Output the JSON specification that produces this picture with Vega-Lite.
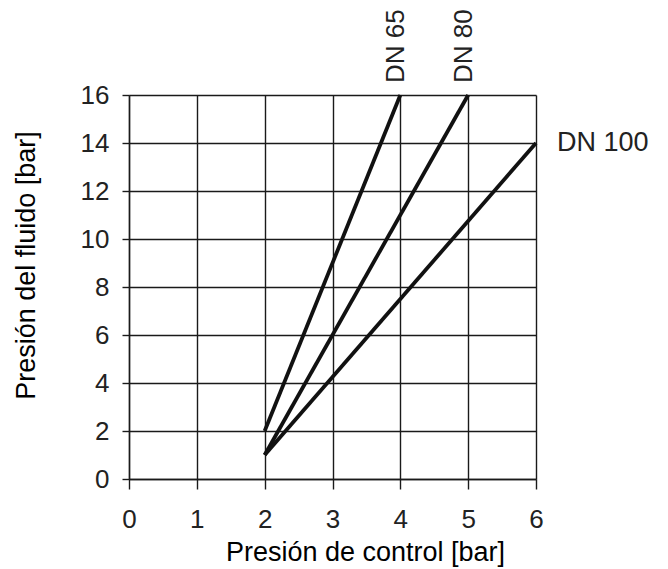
{
  "$schema": "https://vega.github.io/schema/vega-lite/v6.json",
  "autosize": {"type": "none"},
  "padding": {"left": 129, "top": 95, "right": 132, "bottom": 90},
  "width": 407,
  "height": 384,
  "background": "white",
  "config": {
    "view": {"stroke": null},
    "font": "Liberation Sans"
  },
  "data": {
    "values": [
      {"serie": "DN 65", "control": 2, "fluido": 2},
      {"serie": "DN 65", "control": 4, "fluido": 16},
      {"serie": "DN 80", "control": 2, "fluido": 1},
      {"serie": "DN 80", "control": 5, "fluido": 16},
      {"serie": "DN 100", "control": 2, "fluido": 1},
      {"serie": "DN 100", "control": 6, "fluido": 14}
    ]
  },
  "encoding": {
    "x": {
      "field": "control",
      "type": "quantitative",
      "scale": {"domain": [0, 6], "nice": false},
      "axis": {
        "title": "Presión de control [bar]",
        "values": [0, 1, 2, 3, 4, 5, 6],
        "grid": true,
        "gridColor": "#1a1a1a",
        "gridWidth": 1.4,
        "gridOpacity": 1,
        "domainColor": "#1a1a1a",
        "domainWidth": 1.4,
        "tickColor": "#1a1a1a",
        "tickWidth": 1.4,
        "tickSize": 10,
        "labelFontSize": 26,
        "labelColor": "#222",
        "labelPadding": 17,
        "labelFlush": false,
        "titleFontSize": 27,
        "titleFontWeight": "normal",
        "titleColor": "#000",
        "titleX": 236,
        "titleY": 81,
        "titleAlign": "center",
        "titleBaseline": "alphabetic"
      }
    },
    "y": {
      "field": "fluido",
      "type": "quantitative",
      "scale": {"domain": [0, 16], "nice": false},
      "axis": {
        "title": "Presión del fluido [bar]",
        "values": [0, 2, 4, 6, 8, 10, 12, 14, 16],
        "grid": true,
        "gridColor": "#1a1a1a",
        "gridWidth": 1.4,
        "gridOpacity": 1,
        "domainColor": "#1a1a1a",
        "domainWidth": 1.4,
        "tickColor": "#1a1a1a",
        "tickWidth": 1.4,
        "tickSize": 7,
        "labelFontSize": 26,
        "labelColor": "#222",
        "labelPadding": 13,
        "labelFlush": false,
        "titleFontSize": 27,
        "titleFontWeight": "normal",
        "titleColor": "#000",
        "titleAngle": -90,
        "titleX": -95,
        "titleY": 170,
        "titleAlign": "center",
        "titleBaseline": "alphabetic"
      }
    }
  },
  "layer": [
    {
      "mark": {"type": "line", "color": "#111", "strokeWidth": 3.8},
      "encoding": {"detail": {"field": "serie"}}
    },
    {
      "transform": [{"filter": "datum.fluido == 16"}],
      "mark": {
        "type": "text",
        "angle": 270,
        "align": "left",
        "baseline": "alphabetic",
        "dx": 12,
        "dy": 4,
        "fontSize": 26,
        "color": "#222"
      },
      "encoding": {"text": {"field": "serie"}}
    },
    {
      "transform": [{"filter": "datum.control == 6"}],
      "mark": {
        "type": "text",
        "align": "left",
        "baseline": "middle",
        "dx": 21,
        "fontSize": 27,
        "color": "#222"
      },
      "encoding": {"text": {"field": "serie"}}
    }
  ]
}
